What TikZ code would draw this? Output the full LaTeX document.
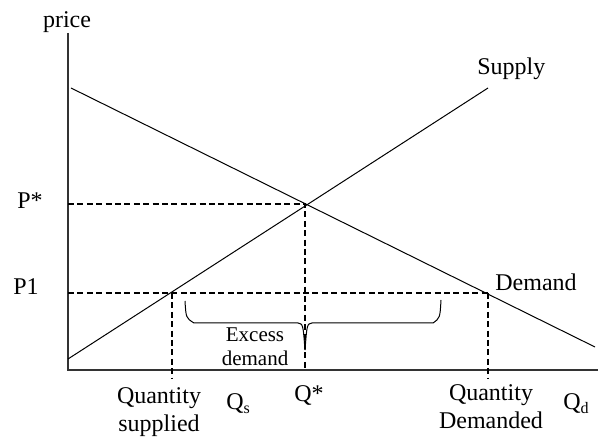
\documentclass[tikz,border=0pt]{standalone}
\usepackage{fontspec}
\setmainfont{Liberation Serif}
\usepackage{tikz}
\usetikzlibrary{calc}

\begin{document}
\begin{tikzpicture}[
  x=0.5pt, y=-0.5pt,
  axis/.style={draw=black!80, line width=0.6pt},
  curve/.style={draw=black, line width=0.5pt},
  guide/.style={draw=black, line width=0.6pt, dash pattern=on 3pt off 1.7pt},
  brace/.style={draw=black, line width=0.5pt},
  lbl/.style={font=\fontsize{12}{14}\selectfont, inner sep=0pt, align=center},
  small/.style={font=\fontsize{10.5}{12}\selectfont, inner sep=0pt, align=center}
]
\useasboundingbox (0,0) rectangle (605,437);

% axes
\coordinate (origin) at (68,370);
\coordinate (ytop) at (68,33);
\coordinate (xend) at (598,370);
\draw[axis] (ytop) -- (origin) -- (xend);

% supply and demand
\coordinate (sstart) at (68,359);
\coordinate (send) at (488,88);
\coordinate (dstart) at (71,88);
\coordinate (dend) at (595,347);
\draw[curve] (sstart) -- (send);
\draw[curve] (dstart) -- (dend);

% equilibrium and price floor guides
\coordinate (eqm) at (305,204);
\coordinate (pstar) at (68,204);
\coordinate (qstar) at (305,370);
\coordinate (p1) at (68,293);
\coordinate (qs) at (172,293);
\coordinate (qd) at (488,293);
\coordinate (qsfoot) at (172,378);
\coordinate (qdfoot) at (488,378);
\draw[guide] (pstar) -- (eqm) -- (qstar);
\draw[guide] (p1) -- (qd);
\draw[guide] (qs) -- (qsfoot);
\draw[guide] (qd) -- (qdfoot);

% brace for the shortage
\coordinate (bl) at (185,301);
\coordinate (br) at (441,300);
\coordinate (btip) at (305,350);
\draw[brace] (bl) .. controls (186,318) .. (194,323) -- (298,323)
  .. controls (303,324) .. (btip);
\draw[brace] (btip) .. controls (307,324) .. (312,323) -- (433,323)
  .. controls (440,318) .. (br);

% labels
\node[lbl, anchor=base] (price) at (67,28) {price};
\node[lbl, anchor=base west] (supply) at (477,75) {Supply};
\node[lbl, anchor=base west] (demand) at (495,291) {Demand};
\node[lbl, anchor=base west] (pstarlbl) at (17,209) {P*};
\node[lbl, anchor=base west] (p1lbl) at (13,295) {P1};
\node[small, anchor=base] (excess) at (255,366) {Excess\\demand};
\node[lbl, anchor=base] (qsupplied) at (159,432) {Quantity\\supplied};
\node[lbl, anchor=base west] (qslbl) at (226,410) {Q\textsubscript{s}};
\node[lbl, anchor=base west] (qstarlbl) at (294,402) {Q*};
\node[lbl, anchor=base] (qdemanded) at (491,429) {Quantity\\Demanded};
\node[lbl, anchor=base west] (qdlbl) at (563,410) {Q\textsubscript{d}};
\end{tikzpicture}
\end{document}
